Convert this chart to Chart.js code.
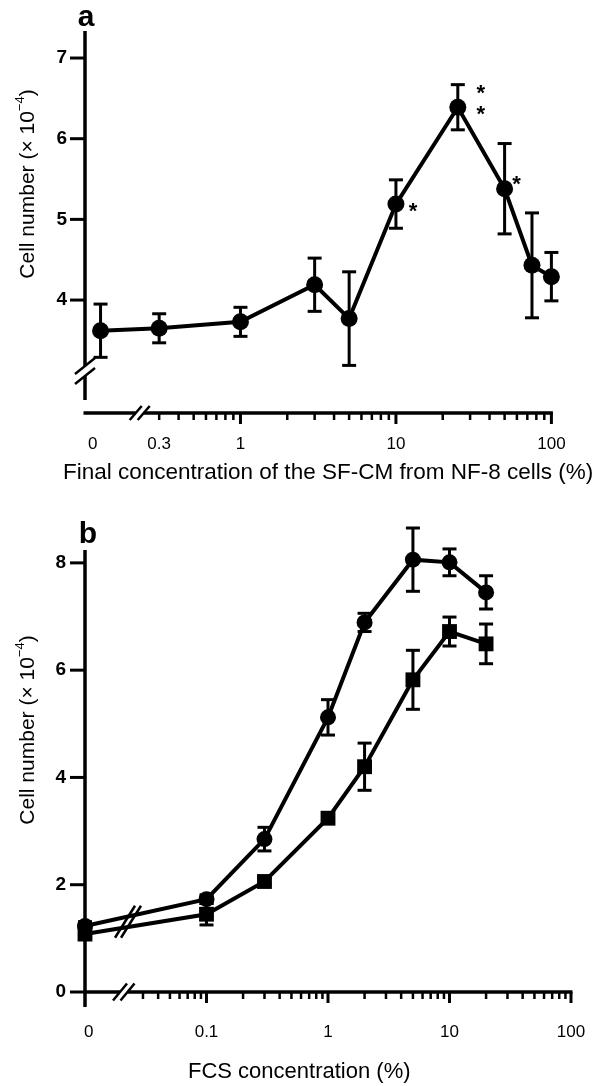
<!DOCTYPE html>
<html>
<head>
<meta charset="utf-8">
<script src="https://cdn.jsdelivr.net/npm/chart.js@4.4.1/dist/chart.umd.min.js"></script>
<style>
  html, body { margin: 0; padding: 0; background: #fff; }
  canvas { position: absolute; left: 0; }
  #chartA { top: 0; }
  #chartB { top: 490px; }
</style>
</head>
<body>
<canvas id="chartA" width="602" height="490"></canvas>
<canvas id="chartB" width="602" height="596"></canvas>
<script>
// ----- panel a : SF-CM from NF-8 cells -----
const concA = [0, 0.3, 1, 3, 5, 10, 25, 50, 75, 100];
const cellsA = [3.62, 3.65, 3.73, 4.19, 3.77, 5.19, 6.39, 5.38, 4.43, 4.29];
const errA = [0.33, 0.18, 0.18, 0.33, 0.58, 0.30, 0.28, 0.56, 0.65, 0.30];
const starsA = [0, 0, 0, 0, 0, 1, 2, 1, 0, 0];
const yTicksA = [4, 5, 6, 7];
const xTickValsA = [0, 0.3, 1, 10, 100];
const xTickLabelsA = ['0', '0.3', '1', '10', '100'];

// ----- panel b : FCS -----
const concB = [0, 0.1, 0.3, 1, 2, 5, 10, 20];
const circlesB = [1.23, 1.73, 2.85, 5.12, 6.89, 8.06, 8.01, 7.45];
const circlesErrB = [0.08, 0.08, 0.22, 0.33, 0.17, 0.59, 0.25, 0.31];
const squaresB = [1.08, 1.45, 2.06, 3.24, 4.20, 5.82, 6.72, 6.49];
const squaresErrB = [0.06, 0.20, 0.06, 0.10, 0.44, 0.55, 0.27, 0.37];
const yTicksB = [0, 2, 4, 6, 8];
const xTickValsB = [0, 0.1, 1, 10, 100];
const xTickLabelsB = ['0', '0.1', '1', '10', '100'];

const FONT = "'Liberation Sans', Arial, Helvetica, sans-serif";
Chart.defaults.font.family = FONT;
Chart.defaults.color = '#000';

// log10 axis, the "0" dose is put left of the axis break
const ZERO_A = -0.9, ZERO_B = -2;
const posA = c => c === 0 ? ZERO_A : Math.log10(c);
const labelPosA = c => c === 0 ? -0.95 : Math.log10(c);
const posB = c => c === 0 ? ZERO_B : Math.log10(c);
const labelPosB = c => c === 0 ? -1.97 : Math.log10(c);
const BREAK_A = -0.648, BREAK_B = -1.681, LINE_BREAK_B = -1.646;

function logTicks(breakPos) {
  const out = { major: [], minor: [] };
  for (let d = -2; d <= 2; d++) {
    if (d > breakPos) out.major.push(d);
    if (d < 2) {
      for (let k = 2; k <= 9; k++) {
        const p = Math.log10(k * Math.pow(10, d));
        if (p > breakPos + 0.05) out.minor.push(p);
      }
    }
  }
  return out;
}

function seg(ctx, x1, y1, x2, y2, w) {
  ctx.beginPath();
  ctx.lineWidth = w;
  ctx.moveTo(x1, y1);
  ctx.lineTo(x2, y2);
  ctx.stroke();
}
function slash(ctx, cx, cy, hx, hy) {
  seg(ctx, cx - hx, cy + hy, cx + hx, cy - hy, 2.5);
}

function errorBars(chart, di, means, errs) {
  const ctx = chart.ctx, ys = chart.scales.y;
  ctx.save();
  ctx.strokeStyle = '#000';
  chart.getDatasetMeta(di).data.forEach((p, i) => {
    const top = ys.getPixelForValue(means[i] + errs[i]);
    const bot = ys.getPixelForValue(means[i] - errs[i]);
    seg(ctx, p.x, top, p.x, bot, 3);
    seg(ctx, p.x - 7, top, p.x + 7, top, 3);
    seg(ctx, p.x - 7, bot, p.x + 7, bot, 3);
  });
  ctx.restore();
}

function xAxis(chart, breakPos, gap, sx, sy) {
  const ctx = chart.ctx, ca = chart.chartArea, xs = chart.scales.x;
  const y = ca.bottom, bx = xs.getPixelForValue(breakPos);
  seg(ctx, ca.left - 1.5, y, bx - gap, y, 3.5);
  seg(ctx, bx + gap, y, ca.right + 1.5, y, 3.5);
  slash(ctx, bx - gap, y, sx, sy);
  slash(ctx, bx + gap, y, sx, sy);
  const t = logTicks(breakPos);
  t.minor.forEach(p => { const x = xs.getPixelForValue(p); seg(ctx, x, y, x, y + 7, 2.5); });
  t.major.forEach(p => { const x = xs.getPixelForValue(p); seg(ctx, x, y, x, y + 11, 3); });
}

function yAxis(chart, ticks, bottomPx, breakPx, gap) {
  const ctx = chart.ctx, ca = chart.chartArea, ys = chart.scales.y;
  const x = ca.left;
  if (breakPx) {
    seg(ctx, x, ca.top, x, breakPx - gap, 3.5);
    seg(ctx, x, breakPx + gap, x, bottomPx, 3.5);
    slash(ctx, x, breakPx - gap, 10, 8);
    slash(ctx, x, breakPx + gap, 10, 8);
  } else {
    seg(ctx, x, ca.top, x, bottomPx, 3.5);
  }
  ticks.forEach(v => {
    const yy = ys.getPixelForValue(v);
    seg(ctx, x - 15, yy, x, yy, 3);
  });
}

function yTitle(ctx, cx, cy) {
  ctx.save();
  ctx.translate(cx, cy);
  ctx.rotate(-Math.PI / 2);
  ctx.textBaseline = 'middle';
  ctx.textAlign = 'left';
  const big = '21px ' + FONT, small = '13px ' + FONT;
  const a = 'Cell number (\u00d7 10', s = '\u22124', b = ')';
  ctx.font = big;
  const wa = ctx.measureText(a).width, wb = ctx.measureText(b).width;
  ctx.font = small;
  const ws = ctx.measureText(s).width;
  const x0 = -(wa + ws + wb) / 2;
  ctx.font = big; ctx.fillText(a, x0, 0);
  ctx.font = small; ctx.fillText(s, x0 + wa, -8);
  ctx.font = big; ctx.fillText(b, x0 + wa + ws, 0);
  ctx.restore();
}

function plainText(ctx, text, x, y, font, align, base) {
  ctx.save();
  ctx.font = font;
  ctx.textAlign = align;
  ctx.textBaseline = base;
  ctx.fillText(text, x, y);
  ctx.restore();
}

const decoA = {
  id: 'decoA',
  beforeDatasetsDraw(chart) { errorBars(chart, 0, cellsA, errA); },
  afterDatasetsDraw(chart) {
    const ctx = chart.ctx, ca = chart.chartArea, ys = chart.scales.y;
    ctx.save();
    ctx.strokeStyle = '#000';
    ctx.fillStyle = '#000';
    yAxis(chart, yTicksA, ca.bottom - 13, ys.getPixelForValue(3.12), 5);
    xAxis(chart, BREAK_A, 4, 6, 7);
    // significance marks
    const spots = { 5: [[17, 2]], 6: [[23, -19], [23, 2]], 7: [[12, -10]] };
    const pts = chart.getDatasetMeta(0).data;
    starsA.forEach((n, i) => {
      for (let k = 0; k < n; k++) {
        const o = spots[i][k];
        plainText(ctx, '*', pts[i].x + o[0], pts[i].y + o[1] + 12, 'bold 22px ' + FONT, 'center', 'alphabetic');
      }
    });
    yTitle(ctx, 28, 184);
    plainText(ctx, 'Final concentration of the SF-CM from NF-8 cells (%)', 63, 473, '22.5px ' + FONT, 'left', 'middle');
    plainText(ctx, 'a', 86, 26, 'bold 30px ' + FONT, 'center', 'alphabetic');
    ctx.restore();
  }
};

const decoB = {
  id: 'decoB',
  beforeDatasetsDraw(chart) {
    errorBars(chart, 0, circlesB, circlesErrB);
    errorBars(chart, 1, squaresB, squaresErrB);
  },
  afterDatasetsDraw(chart) {
    const ctx = chart.ctx, ca = chart.chartArea, xs = chart.scales.x;
    ctx.save();
    ctx.strokeStyle = '#000';
    ctx.fillStyle = '#000';
    yAxis(chart, yTicksB, ca.bottom + 15, null, 0);
    xAxis(chart, BREAK_B, 3.75, 7, 8.5);
    // break marks on the two curves between 0 and 0.1
    const bx = xs.getPixelForValue(LINE_BREAK_B);
    let sum = 0;
    [0, 1].forEach(di => {
      const d = chart.getDatasetMeta(di).data;
      const f = (bx - d[0].x) / (d[1].x - d[0].x);
      sum += d[0].y + f * (d[1].y - d[0].y);
    });
    const cy = sum / 2;
    slash(ctx, bx - 3, cy, 10, 16);
    slash(ctx, bx + 3, cy, 10, 16);
    yTitle(ctx, 28, 240);
    plainText(ctx, 'FCS concentration (%)', 188, 582, '22px ' + FONT, 'left', 'middle');
    plainText(ctx, 'b', 88, 53, 'bold 30px ' + FONT, 'center', 'alphabetic');
    ctx.restore();
  }
};

function baseScales(xMin, xMax, xVals, xLabels, xLabelPos, xHeight, xPad, yMin, yMax, yTicks, yPad) {
  return {
    x: {
      type: 'linear', min: xMin, max: xMax,
      afterBuildTicks: s => { s.ticks = xVals.map(v => ({ value: xLabelPos(v) })); },
      afterFit: s => { s.height = xHeight; s.paddingLeft = 0; s.paddingRight = 0; },
      grid: { display: false, drawTicks: false },
      border: { display: false },
      ticks: { autoSkip: false, maxRotation: 0, padding: xPad, font: { size: 17 }, color: '#000',
               callback: (v, i) => xLabels[i] }
    },
    y: {
      type: 'linear', min: yMin, max: yMax,
      afterBuildTicks: s => { s.ticks = yTicks.map(v => ({ value: v })); },
      afterFit: s => { s.width = 85; s.paddingTop = 0; s.paddingBottom = 0; },
      grid: { display: false, drawTicks: false },
      border: { display: false },
      ticks: { padding: yPad, font: { size: 19, weight: 'bold' }, color: '#000' }
    }
  };
}

const common = {
  responsive: false,
  animation: false,
  devicePixelRatio: 1,
  events: [],
  plugins: { legend: { display: false }, tooltip: { enabled: false } }
};

new Chart(document.getElementById('chartA'), {
  type: 'scatter',
  data: {
    datasets: [{
      data: concA.map((c, i) => ({ x: posA(c), y: cellsA[i] })),
      showLine: true,
      clip: false,
      borderColor: '#000',
      borderWidth: 4,
      pointStyle: 'circle',
      pointRadius: 8.5,
      pointBorderWidth: 0,
      pointBackgroundColor: '#000'
    }]
  },
  options: Object.assign({}, common, {
    layout: { padding: { top: 31, right: 50.6, bottom: 0, left: 0 } },
    scales: baseScales(-1, 2, xTickValsA, xTickLabelsA, labelPosA, 77, 21, 2.6, 7.335, yTicksA, 18)
  }),
  plugins: [decoA]
});

new Chart(document.getElementById('chartB'), {
  type: 'scatter',
  data: {
    datasets: [{
      data: concB.map((c, i) => ({ x: posB(c), y: circlesB[i] })),
      showLine: true,
      clip: false,
      borderColor: '#000',
      borderWidth: 4,
      pointStyle: 'circle',
      pointRadius: 8,
      pointBorderWidth: 0,
      pointBackgroundColor: '#000'
    }, {
      data: concB.map((c, i) => ({ x: posB(c), y: squaresB[i] })),
      showLine: true,
      clip: false,
      borderColor: '#000',
      borderWidth: 4,
      pointStyle: 'rect',
      pointRadius: 10.5,
      pointBorderWidth: 0,
      pointBackgroundColor: '#000'
    }]
  },
  options: Object.assign({}, common, {
    layout: { padding: { top: 60, right: 31, bottom: 0, left: 0 } },
    scales: baseScales(-2, 2, xTickValsB, xTickLabelsB, labelPosB, 94, 30, 0, 8.24, yTicksB, 19)
  }),
  plugins: [decoB]
});
</script>
</body>
</html>
